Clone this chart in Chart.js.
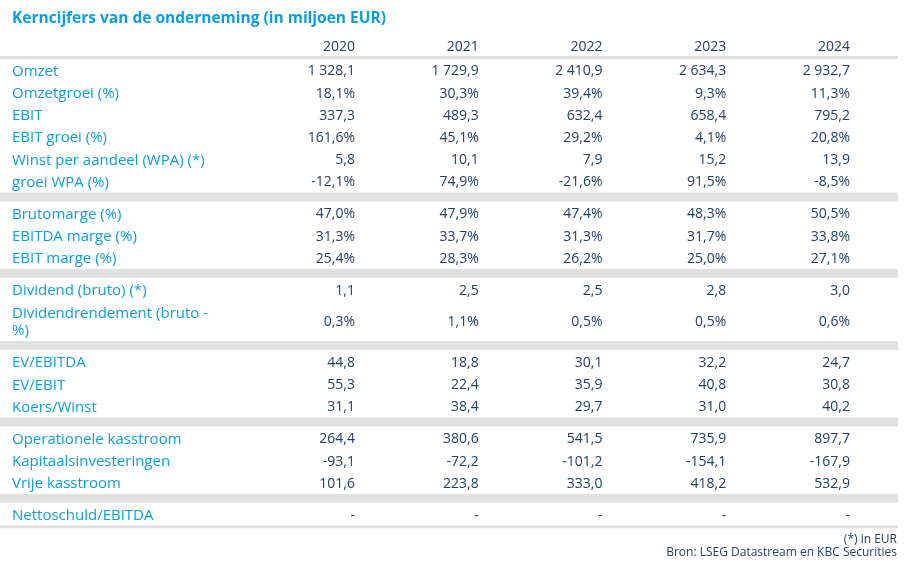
<!DOCTYPE html>
<html lang="nl">
<head>
  <meta charset="UTF-8">
  <title>Kerncijfers van de onderneming</title>
  <script src="https://cdn.jsdelivr.net/npm/chart.js"></script>
  <style>
    body {
      margin: 0;
      padding: 0;
      background: #ffffff;
    }
    .wrap {
      width: 918px;
      height: 571px;
      position: relative;
    }
  </style>
</head>
<body>
  <div class="wrap">
    <canvas id="kerncijfers"></canvas>
  </div>

  <script>
    // Gegevens
    const years = ['2020', '2021', '2022', '2023', '2024'];
    const omzet = [1328.1, 1729.9, 2410.9, 2634.3, 2932.7];
    const omzetGroei = [18.1, 30.3, 39.4, 9.3, 11.3];
    const ebit = [337.3, 489.3, 632.4, 658.4, 795.2];
    const ebitGroei = [161.6, 45.1, 29.2, 4.1, 20.8];
    const wpa = [5.8, 10.1, 7.9, 15.2, 13.9];
    const wpaGroei = [-12.1, 74.9, -21.6, 91.5, -8.5];
    const brutomarge = [47.0, 47.9, 47.4, 48.3, 50.5];
    const ebitdaMarge = [31.3, 33.7, 31.3, 31.7, 33.8];
    const ebitMarge = [25.4, 28.3, 26.2, 25.0, 27.1];
    const dividend = [1.1, 2.5, 2.5, 2.8, 3.0];
    const dividendRendement = [0.3, 1.1, 0.5, 0.5, 0.6];
    const evEbitda = [44.8, 18.8, 30.1, 32.2, 24.7];
    const evEbit = [55.3, 22.4, 35.9, 40.8, 30.8];
    const koersWinst = [31.1, 38.4, 29.7, 31.0, 40.2];
    const operKasstroom = [264.4, 380.6, 541.5, 735.9, 897.7];
    const kapInvest = [-93.1, -72.2, -101.2, -154.1, -167.9];
    const vrijeKasstroom = [101.6, 223.8, 333.0, 418.2, 532.9];
    const nettoschuld = [null, null, null, null, null];

    // groepen van rijen: [label, waarden, procent]
    const groepen = [
      [
        ['Omzet', omzet, false],
        ['Omzetgroei (%)', omzetGroei, true],
        ['EBIT', ebit, false],
        ['EBIT groei (%)', ebitGroei, true],
        ['Winst per aandeel (WPA) (*)', wpa, false],
        ['groei WPA (%)', wpaGroei, true]
      ],
      [
        ['Brutomarge (%)', brutomarge, true],
        ['EBITDA marge (%)', ebitdaMarge, true],
        ['EBIT marge (%)', ebitMarge, true]
      ],
      [
        ['Dividend (bruto) (*)', dividend, false],
        ['Dividendrendement (bruto -\n%)', dividendRendement, true]
      ],
      [
        ['EV/EBITDA', evEbitda, false],
        ['EV/EBIT', evEbit, false],
        ['Koers/Winst', koersWinst, false]
      ],
      [
        ['Operationele kasstroom', operKasstroom, false],
        ['Kapitaalsinvesteringen', kapInvest, false],
        ['Vrije kasstroom', vrijeKasstroom, false]
      ],
      [
        ['Nettoschuld/EBITDA', nettoschuld, false]
      ]
    ];

    const titel = 'Kerncijfers van de onderneming (in miljoen EUR)';
    const voetnoten = ['(*) in EUR', 'Bron: LSEG Datastream en KBC Securities'];

    // opmaak
    const kleurLabel = '#0a9ee0';
    const kleurWaarde = '#22406a';
    const kleurGrijs = '#e1e1e1';
    const font = '"Open Sans", "Noto Sans", sans-serif';
    const tekstOffset = 1.5; // Open Sans staat iets hoog bij 'middle'

    function formatNL(v, pct) {
      if (v === null) return '-';
      let s = Math.abs(v).toFixed(1).replace('.', ',');
      let [int, dec] = s.split(',');
      int = int.replace(/\B(?=(\d{3})+(?!\d))/g, ' ');
      return (v < 0 ? '-' : '') + int + ',' + dec + (pct ? '%' : '');
    }

    // rijposities (verticale schaal in pixels)
    const stap = 22.2, extraTweeRegels = 9, scheiding = 16;
    const rijen = [];
    const balken = [];
    let pos = 70 - stap;
    groepen.forEach((groep, gi) => {
      groep.forEach((rij, ri) => {
        const tweeRegels = rij[0].includes('\n');
        pos += stap + (tweeRegels ? extraTweeRegels : 0);
        rijen.push({ label: rij[0], waarden: rij[1], pct: rij[2], y: pos });
        if (tweeRegels) pos += extraTweeRegels;
      });
      if (gi < groepen.length - 1) {
        balken.push(pos + scheiding);
        pos += 2 * scheiding - stap;
      }
    });
    const kopY = 46;
    const kopLijn = 57.5;
    const onderLijn = pos + 12.5;

    // één dataset per jaar: een punt per rij
    const datasets = years.map((jaar, ci) => ({
      label: jaar,
      data: rijen.map(r => ({ x: ci, y: r.y, tekst: formatNL(r.waarden[ci], r.pct) })),
      pointRadius: 0
    }));
    datasets.push({
      label: 'kop',
      data: years.map((jaar, ci) => ({ x: ci, y: kopY, tekst: jaar })),
      pointRadius: 0
    });

    const tabelPlugin = {
      id: 'tabel',
      beforeDatasetsDraw(chart) {
        const ctx = chart.ctx;
        const y = chart.scales.y;
        const w = chart.width;
        ctx.save();
        ctx.fillStyle = kleurGrijs;
        ctx.fillRect(0, y.getPixelForValue(kopLijn) - 1.5, w - 20, 3);
        balken.forEach(b => ctx.fillRect(0, y.getPixelForValue(b) - 4.5, w - 20, 9));
        ctx.fillRect(0, y.getPixelForValue(onderLijn) - 1.5, w - 20, 3);

        // titel
        ctx.fillStyle = kleurLabel;
        ctx.font = 'bold 15.5px ' + font;
        ctx.textAlign = 'left';
        ctx.textBaseline = 'middle';
        ctx.fillText(titel, 12, 18.5);

        // rijlabels
        ctx.font = '15px ' + font;
        rijen.forEach(r => {
          const regels = r.label.split('\n');
          const yp = y.getPixelForValue(r.y) + tekstOffset;
          regels.forEach((t, i) => {
            ctx.fillText(t, 12, yp + (i - (regels.length - 1) / 2) * 17);
          });
        });

        // voetnoten
        ctx.fillStyle = kleurWaarde;
        ctx.font = '12px ' + font;
        ctx.textAlign = 'right';
        voetnoten.forEach((t, i) => ctx.fillText(t, w - 21, 540 + i * 13));
        ctx.restore();
      },
      afterDatasetsDraw(chart) {
        const ctx = chart.ctx;
        ctx.save();
        ctx.fillStyle = kleurWaarde;
        ctx.font = '14px ' + font;
        ctx.textAlign = 'right';
        ctx.textBaseline = 'middle';
        chart.data.datasets.forEach((ds, di) => {
          chart.getDatasetMeta(di).data.forEach((el, i) => {
            ctx.fillText(ds.data[i].tekst, el.x, el.y + tekstOffset);
          });
        });
        ctx.restore();
      }
    };

    new Chart(document.getElementById('kerncijfers'), {
      type: 'scatter',
      data: { datasets },
      options: {
        responsive: true,
        maintainAspectRatio: false,
        animation: false,
        layout: { padding: { left: 355, right: 68, top: 0, bottom: 0 } },
        plugins: {
          legend: { display: false },
          tooltip: { enabled: false }
        },
        scales: {
          x: { type: 'linear', min: 0, max: 4, display: false },
          y: { type: 'linear', min: 0, max: 571, reverse: true, display: false }
        }
      },
      plugins: [tabelPlugin]
    });
  </script>
</body>
</html>
